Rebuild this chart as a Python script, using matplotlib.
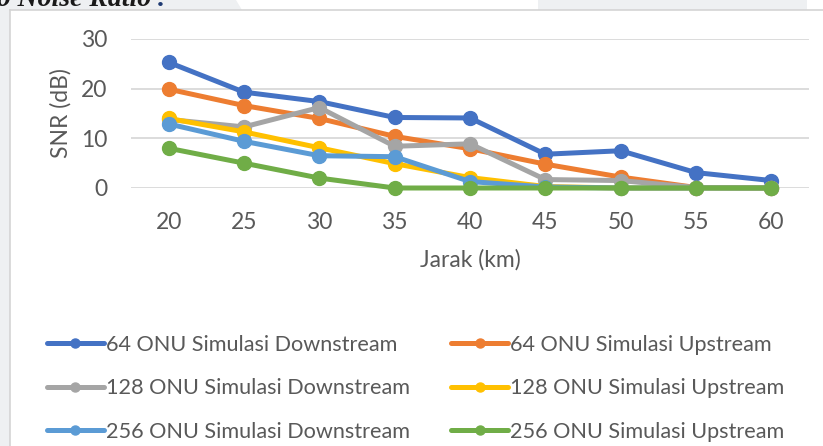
import matplotlib.pyplot as plt
from matplotlib.patches import Rectangle, Polygon
from matplotlib.lines import Line2D

# distances (km) and SNR values (dB)
jarak = [20, 25, 30, 35, 40, 45, 50, 55, 60]
ds_64 = [25.3, 19.3, 17.4, 14.2, 14.1, 6.8, 7.5, 3.1, 1.5]
us_64 = [19.9, 16.6, 14.0, 10.4, 7.9, 4.8, 2.2, 0.1, 0.0]
ds_128 = [13.8, 12.3, 16.2, 8.4, 8.9, 1.7, 1.5, 0.1, 0.0]
us_128 = [14.0, 11.3, 8.1, 4.9, 2.1, 0.3, 0.0, 0.0, 0.0]
ds_256 = [12.9, 9.4, 6.5, 6.3, 1.3, 0.2, 0.0, 0.0, 0.0]
us_256 = [8.0, 5.0, 2.0, 0.0, 0.0, 0.0, 0.0, 0.0, 0.0]

series = [
    ('64 ONU Simulasi Downstream', ds_64, '#4472C4'),
    ('64 ONU Simulasi Upstream', us_64, '#ED7D31'),
    ('128 ONU Simulasi Downstream', ds_128, '#A5A5A5'),
    ('128 ONU Simulasi Upstream', us_128, '#FFC000'),
    ('256 ONU Simulasi Downstream', ds_256, '#5B9BD5'),
    ('256 ONU Simulasi Upstream', us_256, '#70AD47'),
]

plt.rcParams['font.family'] = ['Lato', 'DejaVu Sans']
txt = '#595959'
fs = 16.5
fs_leg = 15.6

fig = plt.figure(figsize=(8.23, 4.46), dpi=100)
fig.patch.set_facecolor('white')

# page background bits around the chart frame
W, H = 823, 446
def px(x, y):
    return (x / W, 1 - y / H)

fig.patches.append(Rectangle(px(0, H), 10 / W, 1, transform=fig.transFigure,
                             facecolor='#eef0f2', edgecolor='none', zorder=0))
fig.patches.append(Polygon([px(0, 0), px(236, 0), px(242, 10), px(0, 10)], closed=True,
                           transform=fig.transFigure, facecolor='#eef0f2', edgecolor='none', zorder=0))
fig.patches.append(Rectangle(px(538, 10), (807 - 538) / W, 10 / H, transform=fig.transFigure,
                             facecolor='#eef0f2', edgecolor='none', zorder=0))
fig.lines.append(Line2D([10 / W, 1], [1 - 10 / H] * 2, transform=fig.transFigure,
                        color='#d4d4d4', lw=1.2))
fig.lines.append(Line2D([10 / W] * 2, [0, 1 - 10 / H], transform=fig.transFigure,
                        color='#d4d4d4', lw=1.2))
# caption text from the page, cut off by the crop
cap = fig.text(-11 / W, 1 - 6 / H, 'to Noise Ratio', family='Liberation Serif', style='italic',
               weight='bold', fontsize=20, color='#1a1a1a', va='baseline', ha='left')
fig.text(158 / W, 1 - 6 / H, '.', family='Liberation Serif', style='italic',
         weight='bold', fontsize=20, color='#1f3b73', va='baseline', ha='left')

ax = fig.add_axes([131 / W, 1 - 188 / H, (809 - 131) / W, (188 - 39) / H])
x = list(range(len(jarak)))
for name, vals, col in series:
    ax.plot(x, vals, color=col, lw=3.6, marker='o', markersize=10, label=name,
            solid_capstyle='round', clip_on=False)

ax.set_xlim(-0.5, len(jarak) - 0.5)
ax.set_ylim(0, 30)
ax.set_yticks([0, 10, 20, 30])
ax.set_xticks(x)
ax.set_xticklabels([str(j) for j in jarak])
ax.grid(axis='y', color='#d9d9d9', lw=1.3)
ax.set_axisbelow(True)
for s in ax.spines.values():
    s.set_visible(False)
ax.tick_params(length=0, labelsize=fs, colors=txt)
ax.tick_params(axis='x', pad=17)
ax.tick_params(axis='y', pad=17)
ax.set_xlabel('Jarak (km)', fontsize=fs, color=txt, labelpad=12)
ax.set_ylabel('SNR (dB)', fontsize=fs, color=txt, labelpad=7)

handles, labels = ax.get_legend_handles_labels()
order = [0, 2, 4, 1, 3, 5]
leg = fig.legend([handles[i] for i in order], [labels[i] for i in order],
                 ncol=2, loc='upper left', bbox_to_anchor=(47 / W, 1 - 335 / H),
                 frameon=False, fontsize=fs_leg, labelcolor=txt, handlelength=2.63,
                 handletextpad=0.1, columnspacing=1.9, labelspacing=1.08,
                 markerscale=0.65, borderpad=0, borderaxespad=0)

fig.savefig('out.png', dpi=100)
